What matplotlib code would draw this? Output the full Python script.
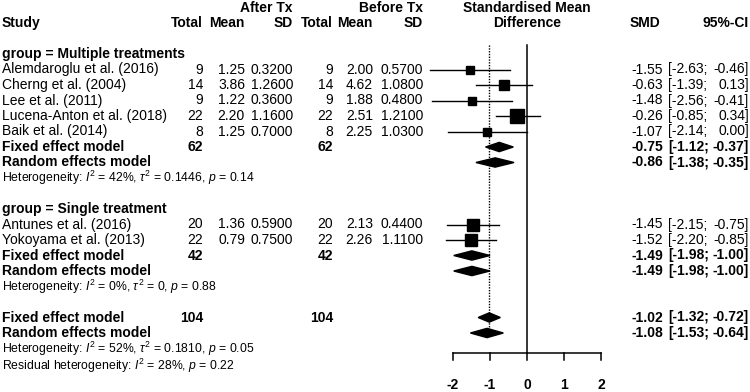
import numpy as np
import matplotlib.pyplot as plt
from matplotlib.patches import Polygon
from matplotlib.transforms import blended_transform_factory

plt.rcParams['font.family'] = ['Liberation Sans', 'DejaVu Sans']
plt.rcParams['mathtext.fontset'] = 'custom'
plt.rcParams['mathtext.rm'] = 'Liberation Sans'
plt.rcParams['mathtext.it'] = 'Liberation Sans:italic'

# studies (group 1 then group 2)
study = ["Alemdaroglu et al. (2016)", "Cherng et al. (2004)", "Lee et al. (2011)",
         "Lucena-Anton et al. (2018)", "Baik et al. (2014)",
         "Antunes et al. (2016)", "Yokoyama et al. (2013)"]
n_after = [9, 14, 9, 22, 8, 20, 22]
mean_after = [1.25, 3.86, 1.22, 2.20, 1.25, 1.36, 0.79]
sd_after = [0.32, 1.26, 0.36, 1.16, 0.70, 0.59, 0.75]
n_before = [9, 14, 9, 22, 8, 20, 22]
mean_before = [2.00, 4.62, 1.88, 2.51, 2.25, 2.13, 2.26]
sd_before = [0.57, 1.08, 0.48, 1.21, 1.03, 0.44, 1.11]
smd = [-1.55, -0.63, -1.48, -0.26, -1.07, -1.45, -1.52]
ci_lo = [-2.63, -1.39, -2.56, -0.85, -2.14, -2.15, -2.20]
ci_hi = [-0.46, 0.13, -0.41, 0.34, 0.00, -0.75, -0.85]
study_rows = [1, 2, 3, 4, 5, 11, 12]

# pooled estimates: multiple fixed/random, single fixed/random, overall fixed/random
pool_label = ["Fixed effect model", "Random effects model"] * 3
pool_total = [62, None, 42, None, 104, None]
pool_smd = [-0.75, -0.86, -1.49, -1.49, -1.02, -1.08]
pool_lo = [-1.12, -1.38, -1.98, -1.98, -1.32, -1.53]
pool_hi = [-0.37, -0.35, -1.00, -1.00, -0.72, -0.64]
pool_rows = [6, 7, 13, 14, 17, 18]

groups = ["group = Multiple treatments", "group = Single treatment"]
group_rows = [0, 10]
het_text = [r"Heterogeneity: $I^2$ = 42%, $\tau^2$ = 0.1446, $p$ = 0.14",
            r"Heterogeneity: $I^2$ = 0%, $\tau^2$ = 0, $p$ = 0.88",
            r"Heterogeneity: $I^2$ = 52%, $\tau^2$ = 0.1810, $p$ = 0.05",
            r"Residual heterogeneity: $I^2$ = 28%, $p$ = 0.22"]
het_rows = [8, 15, 19, 20.1]
xticks = [-2, -1, 0, 1, 2]

W, H = 750, 392
fig = plt.figure(figsize=(W / 100, H / 100), dpi=100)
ax = fig.add_axes([0, 0, 1, 1])
x0, ppu = 527, 37.0        # pixel of SMD 0, pixels per unit
r0, pitch = 54, 15.5       # pixel of row 0, row height
ax.set_xlim(-x0 / ppu, (W - x0) / ppu)
ax.set_ylim((H - r0) / pitch, -r0 / pitch)
ax.axis('off')
tr = blended_transform_factory(fig.transFigure, ax.transData)

fs = 10
def txt(x, row, s, ha='right', bold=False, size=fs):
    ax.text(x / W, row, s, transform=tr, ha=ha, va='center', fontsize=size,
            fontweight='bold' if bold else 'normal')

# headers
txt(293, -3, "After Tx", bold=True)
txt(423, -3, "Before Tx", bold=True)
txt(527, -3, "Standardised Mean", ha='center', bold=True)
txt(2, -2, "Study", ha='left', bold=True)
for x, s in zip([203, 245, 293, 333, 373, 423], ["Total", "Mean", "SD", "Total", "Mean", "SD"]):
    txt(x, -2, s, bold=True)
txt(527, -2, "Difference", ha='center', bold=True)
txt(660, -2, "SMD", bold=True)
txt(749, -2, "95%-CI", bold=True)

for g, r in zip(groups, group_rows):
    txt(2, r, g, ha='left', bold=True)
for s, r in zip(het_text, het_rows):
    txt(2, r, s, ha='left', size=8.8)

# reference lines
axis_row = 19.3
ax.plot([0, 0], [-0.55, axis_row], color='black', lw=1.1)
ax.plot([pool_smd[4]] * 2, [-0.55, pool_rows[5]], color='black', lw=1, ls=(0, (1, 1)))

# studies
se = (np.array(ci_hi) - np.array(ci_lo)) / 3.92
wt = 1 / se ** 2
for i in range(len(study)):
    r = study_rows[i]
    txt(2, r, study[i], ha='left')
    txt(203, r, str(n_after[i]))
    txt(245, r, f"{mean_after[i]:.2f}")
    txt(293, r, f"{sd_after[i]:.4f}")
    txt(333, r, str(n_before[i]))
    txt(373, r, f"{mean_before[i]:.2f}")
    txt(423, r, f"{sd_before[i]:.4f}")
    txt(663, r, f"{smd[i]:.2f}")
    txt(668, r, f"[{ci_lo[i]:.2f};", ha='left')
    txt(749, r, f"{ci_hi[i]:.2f}]")
    ax.plot([ci_lo[i], ci_hi[i]], [r, r], color='black', lw=1)
    ax.plot(smd[i], r, marker='s', color='black', ms=np.sqrt(wt[i]) * 4.25 / 1.389)

# pooled
for i in range(len(pool_label)):
    r = pool_rows[i]
    txt(2, r, pool_label[i], ha='left', bold=True)
    if pool_total[i] is not None:
        txt(203, r, str(pool_total[i]), bold=True)
        txt(333, r, str(pool_total[i]), bold=True)
    txt(663, r, f"{pool_smd[i]:.2f}", bold=True)
    txt(668, r, f"[{pool_lo[i]:.2f};", ha='left', bold=True)
    txt(749, r, f"{pool_hi[i]:.2f}]", bold=True)
    h = 0.3
    ax.add_patch(Polygon([[pool_lo[i], r], [pool_smd[i], r - h], [pool_hi[i], r],
                          [pool_smd[i], r + h]], closed=True, color='black'))

# x axis
ax.plot([xticks[0], xticks[-1]], [axis_row, axis_row], color='black', lw=1.1)
for t in xticks:
    ax.plot([t, t], [axis_row, axis_row + 0.45], color='black', lw=1.1)
    ax.text(t, 21.35, str(t), ha='center', va='center', fontsize=fs, fontweight='bold')

fig.savefig("out.png", dpi=100)
